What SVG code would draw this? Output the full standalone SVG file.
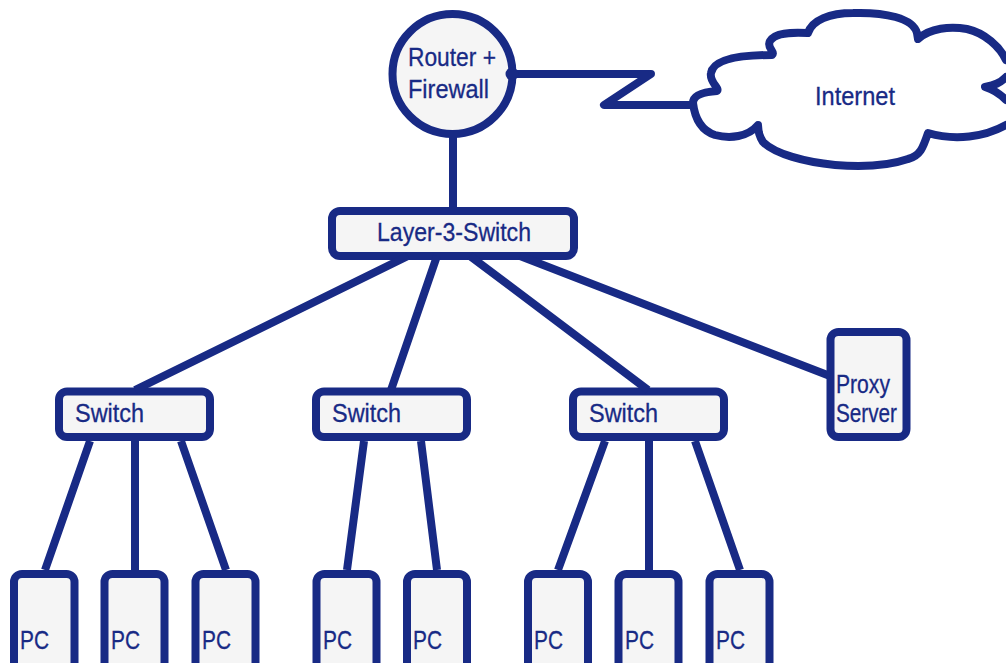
<svg xmlns="http://www.w3.org/2000/svg" width="1006" height="663" viewBox="0 0 1006 663">
<style>
.s{fill:#f5f5f5;stroke:#182a85;stroke-width:8}
.c{fill:none;stroke:#182a85;stroke-width:8;stroke-linecap:round;stroke-linejoin:round}
.l{fill:none;stroke:#182a85;stroke-width:8}
text{font-family:"Liberation Sans",Arial,sans-serif;font-size:26px;fill:#182a85;stroke:#182a85;stroke-width:.3}
</style>
<rect width="1006" height="663" fill="#fff"/>
<g id="internet">
<path fill="none" stroke="#182a85" stroke-width="8" stroke-linecap="round" stroke-linejoin="round" d="M693 103C693 95 703 92 717 91C720 88 709 82 711 73C713 62 730 55 772 55C776 52 766 48 770 41C775 33 790 32 808 33C812 20 830 13 853 13C885 12 913 18 917 33L918 39C930 28 950 26 967 29C985 33 1000 47 1006 60M1006 77C1000 83 995 85 985 87C995 90 1000 94 1006 100M1006 125C985 137 955 141 928 133C923 148 920 156 908 159C885 167 860 167 835 165C805 162 775 154 763 142C759 136 758 130 758 125C748 137 730 139 715 135C703 131 695 120 693 103"/>
<text x="815" y="105" textLength="80" lengthAdjust="spacingAndGlyphs">Internet</text>
</g>
<g id="router">
<circle class="s" cx="452.500" cy="74" r="60"/>
<text x="408" y="66" textLength="88" lengthAdjust="spacingAndGlyphs">Router +</text>
<text x="408" y="98" textLength="81" lengthAdjust="spacingAndGlyphs">Firewall</text>
</g>
<g id="l3">
<rect class="s" x="332" y="211" width="242" height="45" rx="8"/>
<text x="377" y="241" textLength="154" lengthAdjust="spacingAndGlyphs">Layer-3-Switch</text>
</g>
<g id="sw1"><rect class="s" x="59" y="391.500" width="151" height="45.500" rx="8"/><text x="75" y="422" textLength="69" lengthAdjust="spacingAndGlyphs">Switch</text></g>
<g id="sw2"><rect class="s" x="316" y="391.500" width="151" height="45.500" rx="8"/><text x="332" y="422" textLength="69" lengthAdjust="spacingAndGlyphs">Switch</text></g>
<g id="sw3"><rect class="s" x="573" y="391.500" width="151" height="45.500" rx="8"/><text x="589" y="422" textLength="69" lengthAdjust="spacingAndGlyphs">Switch</text></g>
<g id="proxy"><rect class="s" x="830.500" y="332" width="76" height="105" rx="8"/><text x="836" y="393" textLength="54" lengthAdjust="spacingAndGlyphs">Proxy</text><text x="836" y="422" textLength="61" lengthAdjust="spacingAndGlyphs">Server</text></g>
<g id="pc1"><rect class="s" x="14" y="574" width="60.500" height="100" rx="8"/><text x="20" y="649" textLength="29" lengthAdjust="spacingAndGlyphs">PC</text></g>
<g id="pc2"><rect class="s" x="104.500" y="574" width="60" height="100" rx="8"/><text x="111" y="649" textLength="29" lengthAdjust="spacingAndGlyphs">PC</text></g>
<g id="pc3"><rect class="s" x="195.500" y="574" width="60" height="100" rx="8"/><text x="202" y="649" textLength="29" lengthAdjust="spacingAndGlyphs">PC</text></g>
<g id="pc4"><rect class="s" x="316.500" y="574" width="60" height="100" rx="8"/><text x="323" y="649" textLength="29" lengthAdjust="spacingAndGlyphs">PC</text></g>
<g id="pc5"><rect class="s" x="407" y="574" width="60" height="100" rx="8"/><text x="413" y="649" textLength="29" lengthAdjust="spacingAndGlyphs">PC</text></g>
<g id="pc6"><rect class="s" x="528" y="574" width="60" height="100" rx="8"/><text x="534" y="649" textLength="29" lengthAdjust="spacingAndGlyphs">PC</text></g>
<g id="pc7"><rect class="s" x="618.500" y="574" width="60" height="100" rx="8"/><text x="625" y="649" textLength="29" lengthAdjust="spacingAndGlyphs">PC</text></g>
<g id="pc8"><rect class="s" x="709.500" y="574" width="60" height="100" rx="8"/><text x="716" y="649" textLength="29" lengthAdjust="spacingAndGlyphs">PC</text></g>
<g id="connectors">
<path class="l" d="M453 134V207M408 256L135 390M437 256L391 390M470 256L648 390M520 256L830 376"/>
<path class="l" d="M90 441L45 570M135 441V570M181 441L226 570M364 441L347 570M421 441L437 570M605 441L558 570M649 441V570M695 441L740 570"/>
<path class="c" d="M512 74H651L604 105H693"/>
<circle cx="512" cy="74" r="6.500" fill="#182a85"/>
</g>
</svg>
